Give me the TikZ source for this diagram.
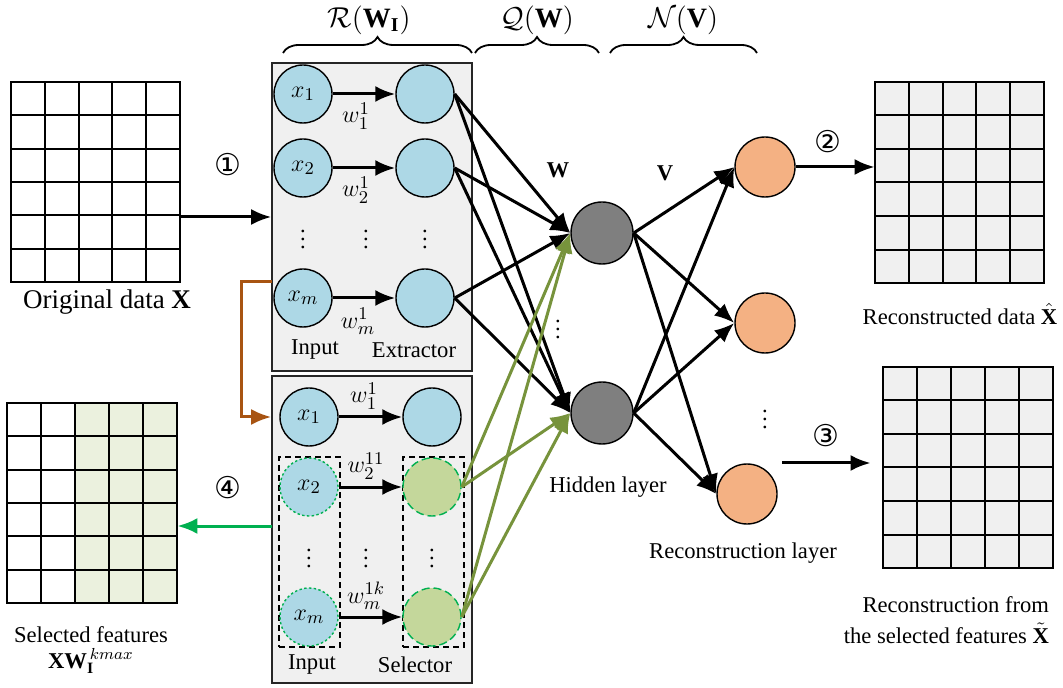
\documentclass[tikz,border=0pt]{standalone}
\usepackage{amsmath}
\usepackage{fontspec}
\setmainfont{Liberation Serif}
\newfontfamily\circfont{DejaVu Sans}
\usepackage{tikz}
\usetikzlibrary{arrows.meta,calc,decorations.pathreplacing}
\definecolor{nodeblue}{RGB}{173,216,230}
\definecolor{selgreen}{RGB}{196,215,155}
\definecolor{dashgreen}{RGB}{0,176,80}
\definecolor{olivegr}{RGB}{119,147,60}
\definecolor{brownln}{RGB}{168,84,18}
\definecolor{hidgray}{RGB}{127,127,127}
\definecolor{outorange}{RGB}{244,177,131}
\definecolor{cellgreen}{RGB}{235,241,222}
\definecolor{cellgray}{RGB}{240,240,240}

\begin{document}
\begin{tikzpicture}[x=0.5pt,y=-0.5pt,
  font=\fontsize{11.3}{13.5}\selectfont,
  gridframe/.style={inner sep=0pt,minimum width=84.5pt,minimum height=100pt},
  cell/.style={line width=1pt},
  panel/.style={draw=black!85,fill=black!6,line width=0.8pt,inner sep=0pt,minimum width=100pt},
  unit/.style={circle,draw,line width=0.7pt,fill=nodeblue,minimum size=29pt,inner sep=0pt,font=\fontsize{13}{15}\selectfont},
  picked/.style={unit,draw=dashgreen,dash pattern=on 1.2pt off 1.2pt},
  selunit/.style={unit,fill=selgreen,draw=dashgreen,dash pattern=on 4pt off 2pt},
  hidunit/.style={circle,draw,line width=0.7pt,fill=hidgray,minimum size=31pt,inner sep=0pt},
  outunit/.style={circle,draw,line width=0.7pt,fill=outorange,minimum size=30pt,inner sep=0pt},
  groupbox/.style={draw,densely dashed,line width=0.7pt,inner sep=0pt,minimum width=30.5pt,minimum height=95pt},
  wlabel/.style={font=\fontsize{13}{15}\selectfont,inner sep=1pt},
  link/.style={line width=1.5pt,-{Latex[length=10pt,width=8pt]}},
  topbrace/.style={decorate,decoration={brace,amplitude=8pt},line width=0.9pt},
  bracelbl/.style={font=\fontsize{14}{16}\selectfont},
  circnum/.style={font=\fontsize{15}{17}\circfont}
]
\useasboundingbox (0,0) rectangle (1063,688);

% data matrices
\node[gridframe,fill=white] (origgrid) at (95.5,182) {};
\node[gridframe,fill=white,minimum width=85pt] (selgrid) at (92,503) {};
\node[gridframe,fill=cellgray,minimum height=100.5pt] (hatgrid) at (959.5,182.5) {};
\node[gridframe,fill=cellgray,minimum width=85pt,minimum height=100.5pt] (tildegrid) at (968,467.5) {};
\fill[cellgreen] ($(selgrid.north west)!0.4!(selgrid.north east)$) rectangle (selgrid.south east);
\foreach \g in {origgrid,selgrid,hatgrid,tildegrid} {
  \draw[cell] (\g.north west) rectangle (\g.south east);
  \foreach \i in {1,...,4}
    \draw[cell] ($(\g.north west)!\i/5!(\g.north east)$) -- ($(\g.south west)!\i/5!(\g.south east)$);
  \foreach \j in {1,...,5}
    \draw[cell] ($(\g.north west)!\j/6!(\g.south west)$) -- ($(\g.north east)!\j/6!(\g.south east)$);
}
\node[font=\fontsize{13.5}{16}\selectfont] (origlbl) at (107,302) {Original data \textbf{X}};
\node[align=center] (sellbl) at (91,650) {Selected features\\[-0.5pt]$\text{\textbf{XW}}_{\text{\textbf{I}}}^{\,kmax}$};
\node (hatlbl) at (960,314) {Reconstructed data $\hat{\text{\textbf{X}}}$};
\node[align=right,anchor=east] (tildelbl) at (1056,620) {Reconstruction from\\[2pt]the selected features $\tilde{\text{\textbf{X}}}$};

% extractor panel
\node[panel,minimum height=154pt] (extbox) at (372,217) {};
\node[unit] (x1) at (303,94) {$x_1$};
\node[unit] (x2) at (303,168) {$x_2$};
\node[unit] (xm) at (303,298) {$x_m$};
\node[unit] (e1) at (425,94) {};
\node[unit] (e2) at (425,168) {};
\node[unit] (em) at (425,298) {};
\node (d1) at (303,233) {$\vdots$};
\node (d2) at (366,233) {$\vdots$};
\node (d3) at (425,233) {$\vdots$};
\draw[link] (x1) -- (e1);
\draw[link] (x2) -- (e2);
\draw[link] (xm) -- (em);
\node[wlabel] (w1) at (356,116) {$w_1^1$};
\node[wlabel] (w2) at (356,190) {$w_2^1$};
\node[wlabel] (wm) at (358,321) {$w_m^1$};
\node (inlbl) at (315,350) {Input};
\node (extlbl) at (414,350) {Extractor};

% selector panel
\node[panel,minimum height=153.5pt] (selbox) at (372,529.5) {};
\node[groupbox] (ingrp) at (309.5,552) {};
\node[groupbox] (selgrp) at (433.5,552) {};
\node[unit] (y1) at (309,417) {$x_1$};
\node[picked] (y2) at (309,487) {$x_2$};
\node[picked] (ym) at (309,617) {$x_m$};
\node[unit] (s1) at (432,417) {};
\node[selunit] (s2) at (432,487) {};
\node[selunit] (sm) at (432,617) {};
\node (d4) at (309,552) {$\vdots$};
\node (d5) at (366,552) {$\vdots$};
\node (d6) at (432,552) {$\vdots$};
\draw[link] (y1) -- (s1);
\draw[link] (y2) -- (s2);
\draw[link] (ym) -- (sm);
\node[wlabel] (v1) at (364,396) {$w_1^1$};
\node[wlabel] (v2) at (366,466) {$w_2^{11}$};
\node[wlabel] (vm) at (366,596) {$w_m^{1k}$};
\node (inlbl2) at (312,665) {Input};
\node (sellbl2) at (415,665) {Selector};

% hidden and reconstruction layers
\node[hidunit] (h1) at (602,233) {};
\node[hidunit] (h2) at (602,413) {};
\node[outunit] (o1) at (765,167) {};
\node[outunit] (o2) at (765,323) {};
\node[outunit] (o3) at (747,494) {};
\node (d7) at (558,323) {$\vdots$};
\node (d8) at (765,413) {$\vdots$};
\node (wlbl) at (558,170) {\textbf{W}};
\node (vlbl) at (665,173) {\textbf{V}};
\node (hidlbl) at (608,487) {Hidden layer};
\node (reclbl) at (743,553) {Reconstruction layer};

\foreach \s in {e1,e2,em}
  \foreach \t in {h1,h2}
    \draw[link] (\s.east) -- (\t.west);
\foreach \s in {s2,sm}
  \foreach \t in {h1,h2}
    \draw[link,color=olivegr] (\s.east) -- (\t.west);
\foreach \s in {h1,h2}
  \foreach \t in {o1,o2,o3}
    \draw[link] (\s.east) -- (\t.west);

% data flow
\draw[link] (origgrid.east |- extbox.west) -- (extbox.west);
\node[circnum] (n1) at (228,165) {①};
\draw[link] (o1.east) -- (o1.east -| hatgrid.west);
\node[circnum] (n2) at (828,142) {②};
\coordinate (a3) at (782,463);
\draw[link] (a3) -- ([xshift=-6pt]a3 -| tildegrid.west);
\node[circnum] (n3) at (826,436) {③};
\coordinate (br) at (272,282);
\draw[link,color=brownln] (br) -- ++(-31,0) |- (y1 -| selbox.west);
\coordinate (gr) at (272,526);
\draw[link,color=dashgreen] (gr) -- (gr -| selgrid.east);
\node[circnum] (n4) at (228,488) {④};

% braces
\draw[topbrace] (283,53) -- (472,53);
\draw[topbrace] (475,53) -- (599,53);
\draw[topbrace] (610,53) -- (757,53);
\node[bracelbl] (rlbl) at (369,20) {$\mathcal{R}(\text{\textbf{W}}_{\text{\textbf{I}}})$};
\node[bracelbl] (qlbl) at (537,20) {$\mathcal{Q}(\text{\textbf{W}})$};
\node[bracelbl] (nlbl) at (683,20) {$\mathcal{N}(\text{\textbf{V}})$};
\end{tikzpicture}
\end{document}
